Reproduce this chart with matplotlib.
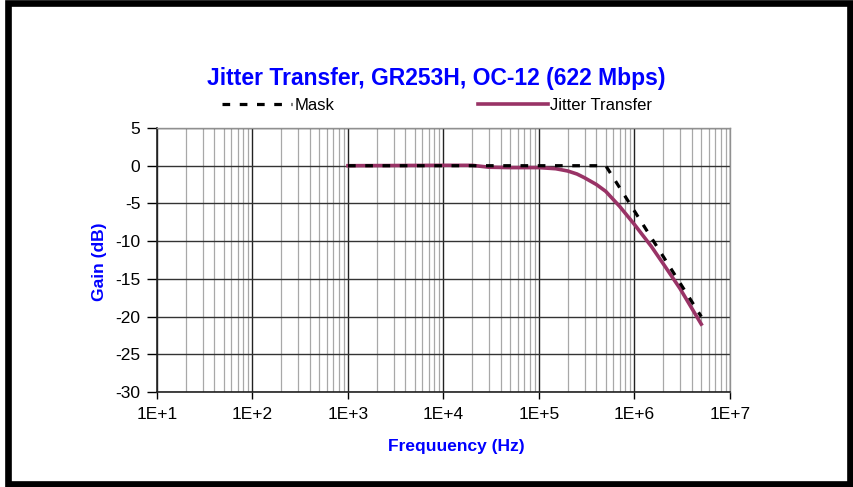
import numpy as np
import matplotlib
matplotlib.use("Agg")
from matplotlib import pyplot as plt
from matplotlib.patches import Rectangle
from matplotlib.ticker import LogLocator

plt.rcParams['font.family'] = ['Liberation Sans', 'DejaVu Sans']
plt.rcParams['axes.unicode_minus'] = False

# mask (GR-253 OC-12)
mask_freq = [1e3, 5e5, 5e6]
mask_gain = [0, 0, -20]

# measured jitter transfer
jt_freq = [1e3, 1e4, 2e4, 3e4, 5e4, 1e5, 1.5e5, 2e5, 2.5e5, 3e5, 4e5, 5e5, 7e5, 1e6, 1.5e6, 2e6, 3e6, 5e6]
jt_gain = [0, 0.05, 0.05, -0.2, -0.25, -0.25, -0.4, -0.7, -1.1, -1.6, -2.5, -3.4, -5.4, -7.8, -10.7, -13.0, -16.3, -21.0]

x_ticks = [1e1, 1e2, 1e3, 1e4, 1e5, 1e6, 1e7]
x_labels = ["1E+1", "1E+2", "1E+3", "1E+4", "1E+5", "1E+6", "1E+7"]
y_ticks = [5, 0, -5, -10, -15, -20, -25, -30]

fig = plt.figure(figsize=(8.54, 4.87), dpi=100)
ax = fig.add_axes([157/854, 1-392/487, (730-157)/854, (392-128)/487])

ax.set_xscale("log")
ax.set_xlim(1e1, 1e7)
ax.set_ylim(-30, 5)

# grid
ax.xaxis.set_minor_locator(LogLocator(base=10, subs=np.arange(2, 10)))
ax.grid(True, which="minor", axis="x", color="#a8a8a8", lw=0.9)
ax.grid(True, which="major", axis="x", color="#222222", lw=1.0)
ax.grid(True, which="major", axis="y", color="#333333", lw=1.0)
ax.set_axisbelow(True)

ax.plot(jt_freq, jt_gain, color="#993366", lw=2.6, label="Jitter Transfer", zorder=3)
ax.plot(mask_freq, mask_gain, color="black", lw=2.3, ls=(0, (2.4, 3.0)), label="Mask", zorder=4)

ax.set_xticks(x_ticks)
ax.set_xticklabels(x_labels)
ax.set_yticks(y_ticks)
ax.tick_params(axis="x", which="major", length=5, width=1, pad=6, labelsize=12.5)
ax.tick_params(axis="x", which="minor", length=0)
ax.tick_params(axis="y", length=7, width=1, pad=5, labelsize=12.5)

for s in ["left", "bottom"]:
    ax.spines[s].set_color("#222222")
    ax.spines[s].set_linewidth(1.2)
for s in ["top", "right"]:
    ax.spines[s].set_color("#909090")
    ax.spines[s].set_linewidth(1.0)

fig.text(436/854, 1-78/487, "Jitter Transfer, GR253H, OC-12 (622 Mbps)", color="#0000ff",
         fontsize=16.5, fontweight="bold", ha="center", va="center")
fig.text(456/854, 1-447/487, "Frequuency (Hz)", color="#0000ff", fontsize=12.5,
         fontweight="bold", ha="center", va="center")
fig.text(100/854, 1-262/487, "Gain (dB)", color="#0000ff", fontsize=12.5,
         fontweight="bold", ha="center", va="center", rotation=90)

handles, labels = ax.get_legend_handles_labels()
leg = fig.legend([handles[1], handles[0]], [labels[1], labels[0]], ncol=2, frameon=False,
                 loc="center left", bbox_to_anchor=(222/854, 1-105/487), borderpad=0,
                 borderaxespad=0, handlelength=4.2, handletextpad=0.15, columnspacing=8.6,
                 fontsize=12)

# outer frame
fig.patches.append(Rectangle((8/854, 3.5/487), (850.5-8)/854, (484-3.5)/487,
                             transform=fig.transFigure, fill=False, ec="black", lw=4.8))

fig.savefig("out.png", dpi=100)
